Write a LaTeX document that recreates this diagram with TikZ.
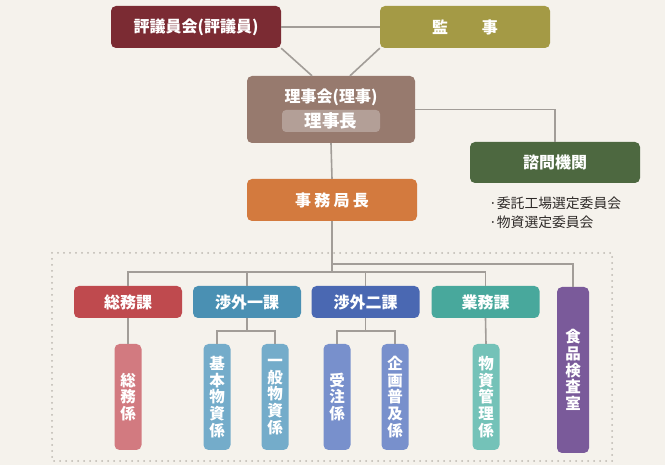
\documentclass[tikz,border=0pt]{standalone}
\usepackage{fontspec}
\setmainfont{Noto Sans CJK JP}
\usepackage{xcolor}
\usetikzlibrary{positioning}
\definecolor{Paper}{HTML}{F5F2EC}
\definecolor{Ink}{HTML}{2E2A28}
\definecolor{Wire}{HTML}{A29D98}
\definecolor{Dots}{HTML}{BDB8B1}
\definecolor{Hyogi}{HTML}{7B2B33}
\definecolor{Kanji}{HTML}{A49A45}
\definecolor{Riji}{HTML}{977A6E}
\definecolor{RijiSoft}{HTML}{B39F97}
\definecolor{Shimon}{HTML}{4D6840}
\definecolor{Jimu}{HTML}{D37A3E}
\definecolor{Soumu}{HTML}{BF4A4E}
\definecolor{SoumuSoft}{HTML}{D27A80}
\definecolor{ShogaiA}{HTML}{4A90B3}
\definecolor{ShogaiASoft}{HTML}{74ACCA}
\definecolor{ShogaiB}{HTML}{4A68B2}
\definecolor{ShogaiBSoft}{HTML}{7890CC}
\definecolor{Gyomu}{HTML}{48A89C}
\definecolor{GyomuSoft}{HTML}{74C2B8}
\definecolor{Kensa}{HTML}{7A5A9A}
\tikzset{
  unit/.style={rounded corners=5pt,minimum width=170pt,minimum height=42pt,align=center,font=\fontsize{16}{18}\selectfont\bfseries,text=white,inner sep=0pt},
  section/.style={unit,minimum width=108pt,minimum height=32pt},
  staff/.style={rounded corners=5pt,minimum width=27pt,minimum height=106pt,align=center,font=\fontsize{15.5}{16.7}\selectfont\bfseries,text=white,inner sep=0pt},
  conn/.style={draw=Wire,line width=1.6pt},
  groupframe/.style={draw=Dots,line width=2pt,line cap=round,dash pattern=on 0pt off 6pt}
}
\begin{document}
\begin{tikzpicture}[x=1pt,y=-1pt]
  \fill[Paper] (0,0) rectangle (665,465);
  \useasboundingbox (0,0) rectangle (665,465);
  % dotted frame round the sections
  \draw[groupframe] (52,253) rectangle (612,461);
  % top level
  \node[unit,fill=Hyogi] (hyogi) at (196,27) {評議員会(評議員)};
  \node[unit,fill=Kanji] (kanji) at (465,27) {監\hspace{2.1em}事};
  \node[unit,fill=Riji,minimum width=168pt,minimum height=67pt] (riji) at (331,109.5) {};
  \node[font=\fontsize{16}{18}\selectfont\bfseries,text=white] (rijititle) at (331,97) {理事会(理事)};
  \node[fill=RijiSoft,rounded corners=4pt,minimum width=98pt,minimum height=22pt,inner sep=0pt,font=\fontsize{17.5}{19}\selectfont\bfseries,text=white] (rijicho) at (331,121) {理事長};
  \node[unit,fill=Shimon,minimum height=41pt] (shimon) at (555,162.5) {諮問機関};
  \node[anchor=north west,align=left,font=\fontsize{13.8}{19}\selectfont,text=Ink,inner sep=0pt] (iinkai) at (489,197) {·委託工場選定委員会\\·物資選定委員会};
  \node[unit,fill=Jimu] (jimu) at (332,200) {事\hspace{0.2em}務\hspace{0.2em}局\hspace{0.2em}長};
  % sections
  \node[section,fill=Soumu] (soumu) at (128,302) {総務課};
  \node[section,fill=ShogaiA] (shogai1) at (247,302) {渉外一課};
  \node[section,fill=ShogaiB] (shogai2) at (365.5,302) {渉外二課};
  \node[section,fill=Gyomu] (gyomu) at (485.5,302) {業務課};
  \node[staff,fill=Kensa,minimum width=32pt,minimum height=166pt] (kensa) at (573,370) {食\\品\\検\\査\\室};
  % staff
  \node[staff,fill=SoumuSoft] (soumukakari) at (128,397) {総\\務\\係};
  \node[staff,fill=ShogaiASoft] (kihon) at (217,397) {基\\本\\物\\資\\係};
  \node[staff,fill=ShogaiASoft] (ippan) at (275,397) {一\\般\\物\\資\\係};
  \node[staff,fill=ShogaiBSoft] (juchu) at (337,397) {受\\注\\係};
  \node[staff,fill=ShogaiBSoft] (kikaku) at (395,397) {企\\画\\普\\及\\係};
  \node[staff,fill=GyomuSoft] (busshi) at (486,397) {物\\資\\管\\理\\係};
  % connectors
  \draw[conn] (hyogi.east) -- (kanji.west);
  \draw[conn] (hyogi.south east) -- ([xshift=-19pt]riji.north);
  \draw[conn] (kanji.south west) -- ([xshift=19pt]riji.north);
  \draw[conn] (riji.east) -| (shimon.north);
  \draw[conn] (riji.south) -- (jimu.north);
  \coordinate (bus) at (332,272);
  \draw[conn] (jimu.south) -- (bus);
  \draw[conn] (jimu.south) -- ++(0,43) -| (kensa.north);
  \draw[conn] (soumu.north) -- (soumu.north |- bus) -| (gyomu.north);
  \draw[conn] (shogai1.north) -- (shogai1.north |- bus);
  \draw[conn] (shogai2.north) -- (shogai2.north |- bus);
  \draw[conn] (soumu.south) -- (soumukakari.north);
  \draw[conn] (shogai1.south) -- ++(0,13);
  \draw[conn] (kihon.north) -- ++(0,-13) -| (ippan.north);
  \draw[conn] (shogai2.south) -- ++(0,13);
  \draw[conn] (juchu.north) -- ++(0,-13) -| (kikaku.north);
  \draw[conn] (gyomu.south) -- (busshi.north);
\end{tikzpicture}
\end{document}
